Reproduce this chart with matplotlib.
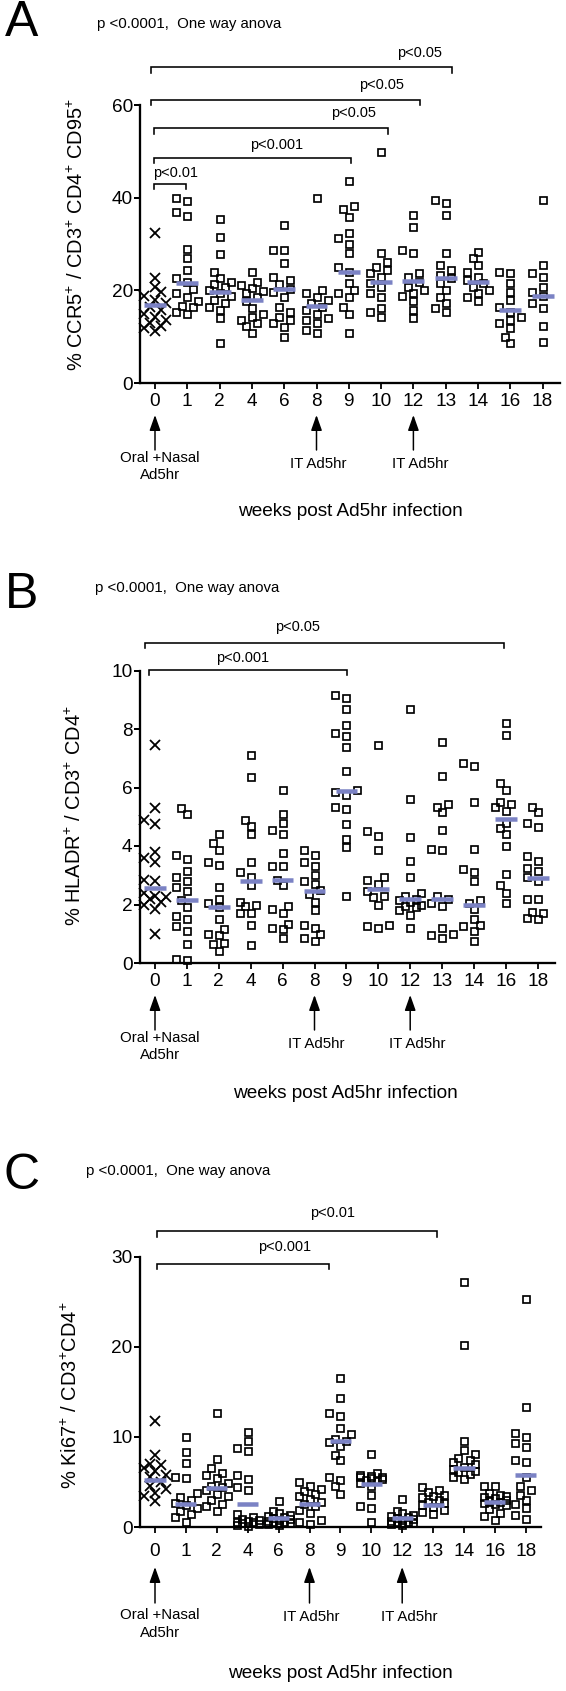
import numpy as np
import matplotlib
matplotlib.use('Agg')
import matplotlib.pyplot as plt

plt.rcParams['font.family'] = ['Liberation Sans', 'DejaVu Sans']
plt.rcParams['mathtext.fontset'] = 'custom'
plt.rcParams['mathtext.rm'] = 'Liberation Sans'
plt.rcParams['mathtext.default'] = 'regular'

weeks = ['0', '1', '2', '4', '6', '8', '9', '10', '12', '13', '14', '16', '18']

# panel A: % CCR5+ of CD3+CD4+CD95+, one list per week
ccr5 = [
    [32.4, 22.6, 20.8, 19.6, 18.8, 18.0, 17.2, 16.5, 15.8, 15.0, 14.3, 13.6, 13.0, 12.4, 11.8, 11.2],
    [40.0, 39.2, 36.8, 36.0, 28.9, 26.9, 24.4, 22.6, 21.9, 20.2, 19.4, 18.6, 17.6, 16.6, 16.5, 15.4, 14.9],
    [35.3, 31.6, 27.8, 24.0, 22.6, 21.9, 21.4, 20.8, 20.1, 19.4, 18.7, 17.9, 17.2, 16.5, 15.8, 14.1, 8.6],
    [24.0, 21.9, 21.2, 20.4, 19.9, 19.4, 18.6, 17.6, 16.1, 15.0, 14.3, 13.6, 12.9, 12.2, 10.7],
    [34.2, 28.7, 28.6, 25.8, 22.9, 22.2, 21.3, 20.2, 19.7, 18.6, 16.5, 15.4, 14.3, 13.6, 12.9, 12.0, 10.0],
    [39.9, 20.1, 19.4, 18.6, 17.9, 17.2, 16.5, 15.8, 14.9, 14.0, 13.5, 12.9, 11.5, 10.8],
    [43.5, 38.1, 37.5, 35.9, 32.3, 31.2, 30.1, 28.0, 25.1, 24.0, 21.5, 20.1, 19.4, 18.6, 16.5, 14.9, 10.7],
    [49.9, 28.0, 26.2, 25.1, 24.4, 23.7, 22.9, 21.5, 20.8, 19.4, 18.6, 16.1, 15.4, 14.3],
    [36.3, 33.7, 28.7, 28.0, 23.7, 22.9, 21.9, 20.8, 20.1, 19.4, 18.7, 17.6, 15.8, 14.0],
    [39.5, 38.8, 36.3, 28.0, 25.5, 24.4, 23.3, 22.6, 21.5, 20.1, 18.6, 17.2, 16.1, 15.4],
    [28.3, 26.9, 25.5, 24.0, 22.9, 22.2, 21.5, 20.8, 20.1, 19.4, 18.6, 17.6],
    [24.0, 23.8, 21.5, 19.7, 17.9, 16.5, 15.4, 14.3, 13.6, 12.9, 11.8, 10.0, 8.6],
    [39.6, 25.5, 23.7, 22.9, 20.8, 19.7, 18.8, 17.2, 16.1, 12.2, 8.9],
]
ccr5_mid = [16.8, 21.5, 19.6, 18.0, 20.2, 16.6, 24.0, 21.7, 22.0, 22.6, 21.9, 15.8, 18.8]

# panel B: % HLADR+ of CD3+CD4+
hladr = [
    [7.45, 5.3, 4.9, 4.75, 3.8, 3.6, 3.45, 2.85, 2.8, 2.4, 2.3, 2.25, 2.2, 2.1, 2.0, 1.85, 1.0],
    [5.3, 5.1, 3.7, 3.55, 3.15, 2.95, 2.8, 2.6, 2.45, 2.15, 1.9, 1.6, 1.5, 1.25, 1.1, 0.65, 0.15, 0.1],
    [4.4, 4.1, 3.85, 3.45, 3.35, 2.6, 2.2, 2.05, 1.9, 1.5, 1.15, 1.0, 0.95, 0.7, 0.65, 0.4],
    [7.1, 6.35, 4.9, 4.7, 4.4, 3.45, 3.1, 2.95, 2.65, 2.1, 2.0, 1.95, 1.7, 1.7, 1.3, 0.6],
    [5.9, 5.1, 4.8, 4.55, 4.4, 3.75, 3.3, 3.3, 2.85, 2.65, 1.95, 1.85, 1.7, 1.35, 1.2, 1.15, 0.85],
    [3.85, 3.7, 3.45, 3.3, 3.0, 2.8, 2.7, 2.5, 2.35, 2.1, 1.8, 1.3, 1.2, 1.0, 0.85, 0.75],
    [9.15, 9.05, 8.7, 8.15, 7.85, 7.75, 7.4, 6.55, 5.9, 5.85, 5.75, 5.35, 5.25, 4.75, 4.25, 3.95, 2.3],
    [7.45, 4.5, 4.35, 3.85, 2.95, 2.85, 2.7, 2.45, 2.3, 2.25, 2.0, 1.3, 1.25, 1.2],
    [8.7, 5.6, 4.3, 3.5, 2.95, 2.4, 2.3, 2.2, 2.15, 2.1, 2.0, 1.95, 1.9, 1.8, 1.65, 1.2],
    [7.55, 6.4, 5.45, 5.35, 5.15, 4.55, 3.9, 3.85, 2.3, 2.2, 2.05, 1.95, 1.2, 1.0, 0.95, 0.85],
    [6.85, 6.75, 5.5, 3.9, 3.2, 3.1, 2.8, 2.15, 2.05, 1.85, 1.5, 1.3, 1.25, 1.1, 0.75],
    [8.2, 7.8, 6.15, 5.9, 5.5, 5.45, 5.35, 5.2, 4.8, 4.6, 4.4, 4.0, 3.05, 2.65, 2.4, 2.05],
    [5.35, 5.15, 4.8, 4.65, 3.65, 3.5, 3.25, 3.15, 2.95, 2.8, 2.2, 2.2, 1.7, 1.75, 1.5, 1.55],
]
hladr_mid = [2.58, 2.15, 1.93, 2.8, 2.84, 2.46, 5.88, 2.53, 2.18, 2.18, 1.98, 4.91, 2.89]

# panel C: % Ki67+ of CD3+CD4+
ki67 = [
    [11.8, 8.0, 7.0, 6.9, 6.6, 6.2, 5.8, 5.5, 5.0, 4.6, 4.2, 3.8, 3.4, 2.9],
    [10.0, 8.3, 7.1, 5.6, 5.4, 3.8, 3.3, 3.0, 2.7, 2.4, 2.1, 1.8, 1.4, 1.1, 0.6],
    [12.6, 7.6, 6.5, 6.0, 5.8, 5.4, 4.9, 4.6, 4.4, 4.1, 3.7, 3.4, 3.0, 2.6, 2.3, 1.8],
    [10.5, 9.6, 8.8, 8.4, 5.8, 5.3, 4.4, 4.1, 1.4, 1.1, 0.9, 0.8, 0.7, 0.6, 0.5, 0.4, 0.3, 0.2, 0.1],
    [2.9, 1.8, 1.5, 1.3, 1.2, 1.1, 1.0, 0.9, 0.8, 0.7, 0.6, 0.5, 0.4, 0.3, 0.2],
    [5.0, 4.6, 4.2, 4.0, 3.7, 3.4, 3.1, 2.8, 2.6, 2.3, 1.9, 1.5, 0.8, 0.6, 0.3],
    [16.5, 14.3, 12.7, 12.3, 11.0, 10.3, 9.8, 9.6, 9.4, 9.0, 8.0, 7.4, 5.5, 5.2, 4.5, 3.7],
    [8.1, 6.0, 5.8, 5.7, 5.6, 5.5, 5.4, 5.3, 5.2, 5.1, 4.9, 4.5, 3.6, 2.3, 2.1, 0.6],
    [3.1, 1.8, 1.5, 1.3, 1.2, 1.1, 1.0, 0.9, 0.8, 0.7, 0.6, 0.5, 0.4, 0.3, 0.2],
    [4.4, 4.1, 3.9, 3.6, 3.4, 3.3, 3.0, 2.8, 2.7, 2.4, 2.2, 1.9, 1.7, 1.4],
    [27.2, 20.2, 9.5, 8.6, 8.1, 7.7, 7.4, 7.2, 7.0, 6.7, 6.4, 6.2, 6.1, 5.9, 5.6, 5.3],
    [4.6, 4.5, 3.8, 3.6, 3.4, 3.3, 3.2, 3.0, 2.9, 2.8, 2.7, 2.5, 2.4, 2.0, 1.6, 1.2, 0.8],
    [25.3, 13.3, 10.4, 10.0, 9.3, 8.9, 7.4, 7.2, 5.6, 4.5, 4.1, 3.6, 3.0, 2.5, 2.1, 1.3, 0.9],
]
ki67_mid = [5.2, 2.6, 4.3, 2.6, 1.0, 2.6, 9.5, 4.8, 1.0, 2.4, 6.6, 2.8, 5.8]

# significance brackets: (from index, to index, level, label, label x, label y)
brackets_a = [(-0.12, 9.2, 68.2, 'p<0.05', 8.2, 71.2),
              (-0.12, 8.2, 61.1, 'p<0.05', 7.0, 64.3),
              (-0.03, 7.2, 55.0, 'p<0.05', 6.15, 58.3),
              (-0.03, 6.07, 48.6, 'p<0.001', 3.77, 51.4),
              (-0.03, 0.96, 43.0, 'p<0.01', 0.65, 45.4)]
brackets_b = [(-0.31, 10.94, 10.94, 'p<0.05', 4.48, 11.49),
              (-0.19, 6.02, 10.02, 'p<0.001', 2.76, 10.43)]
brackets_c = [(0.06, 9.13, 32.8, 'p<0.01', 5.76, 34.9),
              (0.06, 5.63, 29.2, 'p<0.001', 4.2, 31.1)]

W, H = 566, 1691
fig = plt.figure(figsize=(W / 72, H / 72), dpi=72)
MEAN_COLOR = '#7b82c4'


def ftext(x, y, s, **kw):
    fig.text(x / W, 1 - y / H, s, **kw)


def jitter(vals, ppu, ppc, step=5.5, gap=7.5):
    # simple swarm: push overlapping points sideways
    vals = np.asarray(vals, float)
    offs = np.zeros(len(vals))
    placed = []
    for k in np.argsort(vals):
        y = vals[k] * ppu
        best, best_cost = 0.0, None
        for c in (0, -step, step, -2 * step, 2 * step):
            cost = sum(max(0.0, gap - np.hypot(c - px, y - py)) for px, py in placed)
            if best_cost is None or cost < best_cost - 1e-9:
                best, best_cost = c, cost
            if cost == 0:
                break
        placed.append((best, y))
        offs[k] = best / ppc
    return offs


def panel(data, mids, brackets, yticks, geo, drop, below):
    x0, x1, ytop, ybot, step = geo
    ymax = yticks[-1]
    ax = fig.add_axes([x0 / W, 1 - ybot / H, (x1 - x0) / W, (ybot - ytop) / H])
    ax.set_xlim((x0 - 155) / step, (x1 - 155) / step)
    ax.set_ylim(0, ymax)
    ppu = (ybot - ytop) / ymax
    for i, vals in enumerate(data):
        xs = i + jitter(vals, ppu, step)
        if i == 0:
            ax.plot(xs, vals, 'x', color='black', ms=9.5, mew=1.8, clip_on=False, zorder=2)
        else:
            ax.plot(xs, vals, 's', mfc='none', mec='black', ms=7, mew=1.7, clip_on=False, zorder=2)
    idx = np.arange(len(weeks))
    ax.hlines(mids, idx - 0.34, idx + 0.34, color=MEAN_COLOR, lw=4.5, zorder=3)
    for a, b, lev, lab, tx, ty in brackets:
        ax.plot([a, a, b, b], [lev - drop, lev, lev, lev - drop], color='black', lw=1.6,
                clip_on=False, solid_joinstyle='miter')
        ax.text(tx, ty, lab, ha='center', va='center', fontsize=14.5)
    for s in ('top', 'right'):
        ax.spines[s].set_visible(False)
    for s in ('left', 'bottom'):
        ax.spines[s].set_linewidth(2.3)
    ax.set_yticks(yticks)
    ax.set_xticks(idx)
    ax.set_xticklabels(weeks)
    ax.tick_params(axis='y', length=6, width=2, labelsize=19, pad=1)
    ax.tick_params(axis='x', length=6, width=1.8, labelsize=19, pad=below[0])
    tip, tail, t1, t2, tit = below[1:]
    for i in (0, 5, 8):
        ax.annotate('', xy=(i, 0), xycoords=('data', 'axes fraction'),
                    xytext=(0, -tail), textcoords='offset points',
                    arrowprops=dict(arrowstyle='-|>,head_length=0.65,head_width=0.23',
                                    color='black', lw=1.5, shrinkA=0, shrinkB=tip,
                                    mutation_scale=20))
    kw = dict(xycoords=('data', 'axes fraction'), textcoords='offset points',
              ha='center', va='center', fontsize=15)
    ax.annotate('Oral +Nasal', xy=(0, 0), xytext=(5, -t1), **kw)
    ax.annotate('Ad5hr', xy=(0, 0), xytext=(5, -t2), **kw)
    ax.annotate('IT Ad5hr', xy=(5, 0), xytext=(2, -tit), **kw)
    ax.annotate('IT Ad5hr', xy=(8, 0), xytext=(7, -tit), **kw)
    return ax


# geometry in pixels: y-axis x, x-axis end, top tick y, zero y, category spacing
panel(ccr5, ccr5_mid, brackets_a, [0, 20, 40, 60], (140, 560, 105, 383, 32.3), 1.2,
      (4, 32, 67, 75, 92, 81))
panel(hladr, hladr_mid, brackets_b, [0, 2, 4, 6, 8, 10], (139.5, 555, 670.5, 963, 31.9), 0.18,
      (4, 32, 67, 75, 92, 81))
panel(ki67, ki67_mid, brackets_c, [0, 10, 20, 30], (139.5, 541, 1256.7, 1527, 30.9), 0.6,
      (10, 40, 76, 88, 106, 90))

header = 'p <0.0001,  One way anova'
for letter, ly, hx, hy in (('A', 23, 97, 24), ('B', 595, 95, 588), ('C', 1176, 86, 1171)):
    ftext(22, ly, letter, fontsize=50, ha='center', va='center')
    ftext(hx, hy, header, fontsize=15, ha='left', va='center')

ftext(350, 512, 'weeks post Ad5hr infection', fontsize=19, ha='center', va='center')
ftext(345, 1094, 'weeks post Ad5hr infection', fontsize=19, ha='center', va='center')
ftext(340, 1673, 'weeks post Ad5hr infection', fontsize=19, ha='center', va='center')

ftext(77, 234, '% CCR5$^{+}$ / CD3$^{+}$ CD4$^{+}$ CD95$^{+}$', fontsize=20, rotation=90,
      ha='center', va='center')
ftext(75, 816, '% HLADR$^{+}$ / CD3$^{+}$ CD4$^{+}$', fontsize=20, rotation=90,
      ha='center', va='center')
ftext(71, 1395, '% Ki67$^{+}$ / CD3$^{+}$CD4$^{+}$', fontsize=20, rotation=90,
      ha='center', va='center')

fig.savefig('out.png', dpi=72)
